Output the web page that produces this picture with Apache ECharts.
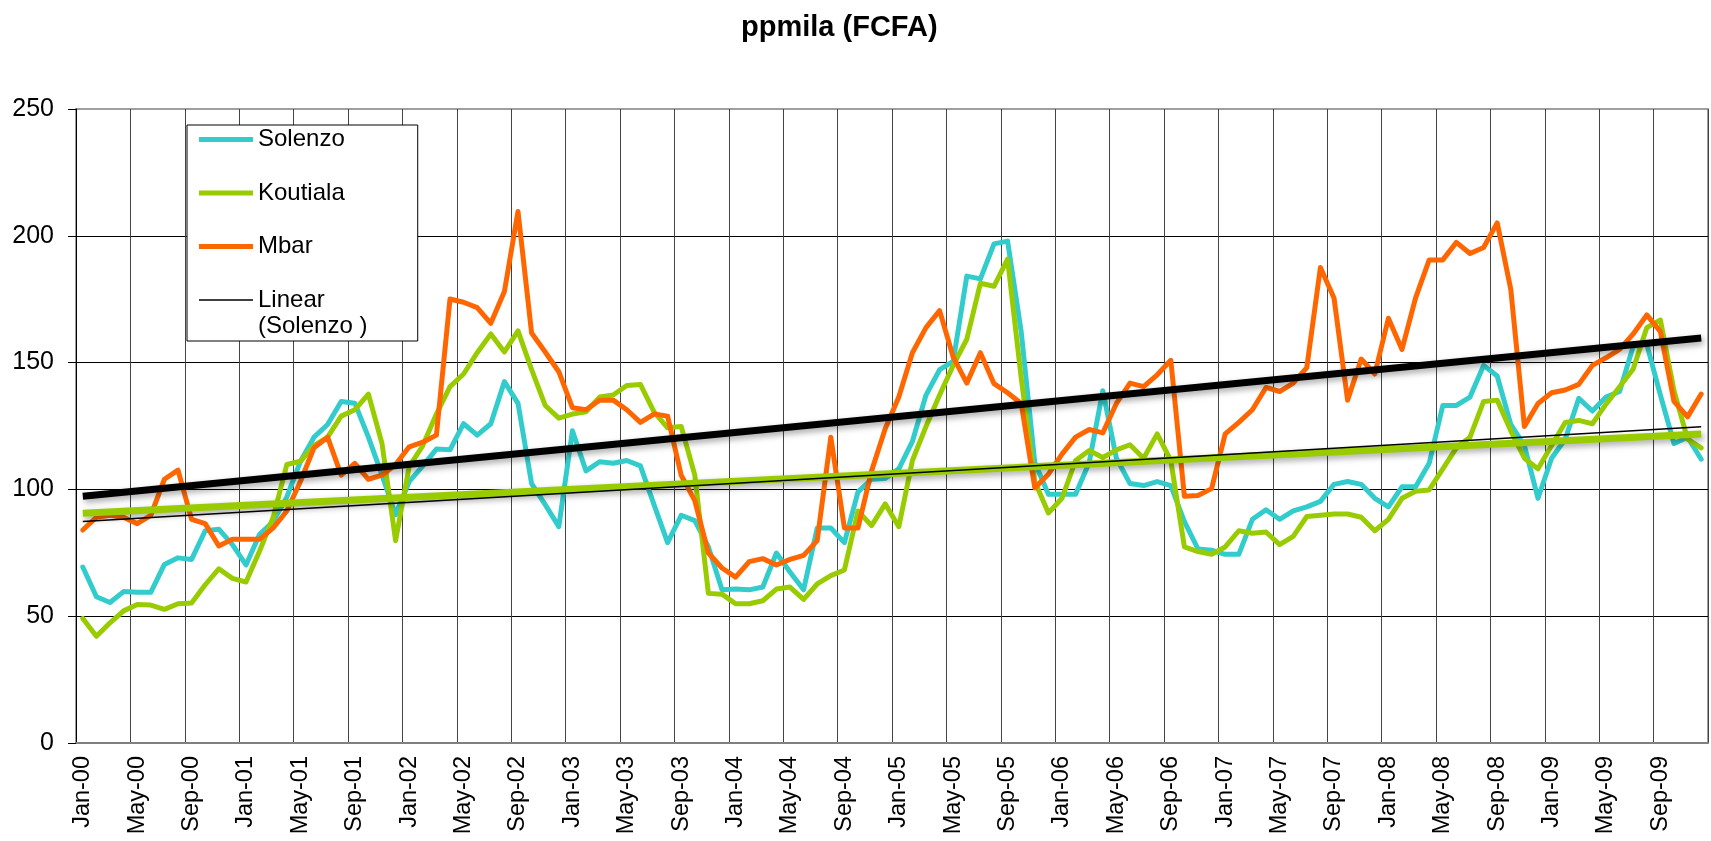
<!DOCTYPE html>
<html>
<head>
<meta charset="utf-8">
<title>ppmila (FCFA)</title>
<script src="https://cdn.jsdelivr.net/npm/echarts@6/dist/echarts.min.js"></script>
<style>
  html, body { margin: 0; padding: 0; background: #fff; }
  #chart { width: 1711px; height: 841px; }
</style>
</head>
<body>
<div id="chart"></div>
<script>
// month labels Jan-00 .. Dec-09
var monthNames = ['Jan', 'Feb', 'Mar', 'Apr', 'May', 'Jun', 'Jul', 'Aug', 'Sep', 'Oct', 'Nov', 'Dec'];
var years = ['00', '01', '02', '03', '04', '05', '06', '07', '08', '09'];
var categories = [];
years.forEach(function (y) {
    monthNames.forEach(function (m) { categories.push(m + '-' + y); });
});

var solenzo = [
    69.4, 57.7, 55.4, 59.7, 59.4, 59.4, 70.4, 73, 72.4, 83.7, 84.3, 78.2,
    70.2, 82.3, 87.3, 97, 111, 120.6, 125.6, 134.7, 134, 120.6, 105.6, 90,
    103.1, 109.3, 115.9, 115.6, 125.9, 121.4, 125.9, 142.5, 133.9, 102.3, 94, 85.3,
    123.1, 107.3, 110.9, 110.3, 111.4, 109.3, 94, 79, 89.8, 87.7, 77.3, 60.4,
    60.7, 60.4, 61.5, 74.9, 67.4, 60.4, 84.8, 84.8, 79, 99, 104, 104.3,
    108.1, 118.9, 137.2, 147.2, 150.5, 184.1, 183, 196.8, 197.9, 162.2, 110.6, 98.1,
    98.1, 98.1, 110.6, 138.9, 112.3, 102.3, 101.5, 103.1, 101.5, 87.3, 76.5, 76,
    74.4, 74.4, 88.2, 92, 88.2, 91.5, 93.1, 95.3, 102, 103.1, 102, 96.5,
    93.1, 101, 101, 110.3, 133.1, 133.1, 136.4, 148.9, 144.7, 125.6, 117.3, 96.5,
    112.3, 119.8, 135.9, 130.9, 136.4, 138.6, 156.4, 157.2, 137.2, 118.1, 120.6, 111.9
];
var koutiala = [
    49.1, 42.1, 47.4, 52.1, 54.6, 54.4, 52.7, 54.9, 55.2, 62.4, 68.7, 64.9,
    63.5, 75.7, 89, 109.8, 111.1, 117.3, 120.6, 128.9, 131.4, 137.6, 118.1, 79.8,
    109, 117.3, 129.7, 140.5, 145.5, 153.9, 161.3, 154.2, 162.5, 147.2, 133.1, 128.1,
    129.7, 130.6, 136.4, 137.2, 141, 141.4, 130.6, 124.3, 124.8, 105.6, 59, 58.7,
    54.9, 54.9, 56.1, 60.7, 61.5, 56.6, 62.7, 66, 68.2, 91.5, 85.7, 94.3,
    85.3, 111.4, 124.8, 137.2, 148.9, 159.2, 181.3, 180.1, 190.8, 143.9, 103.1, 90.7,
    96.5, 111.4, 115.3, 112.6, 115.6, 117.6, 112.3, 121.9, 111.4, 77.3, 75.5, 74.4,
    77.3, 83.7, 82.7, 83.2, 78.2, 81.5, 89.3, 89.8, 90.3, 90.3, 89, 83.7,
    88.2, 96.5, 99.3, 99.8, 108.1, 116.4, 120.6, 134.7, 135.2, 123.1, 112.3, 108.1,
    117.3, 126.4, 127.2, 125.9, 133.6, 140.5, 147.5, 163.8, 166.8, 138.9, 119.8, 116.4
];
var mbar = [
    84, 89, 89.8, 89, 86.5, 89.8, 104, 107.6, 88.2, 86.5, 77.7, 80.3,
    80.3, 80.3, 84.8, 91.5, 103.1, 116.4, 120.6, 105.6, 110.3, 104, 105.6, 109.8,
    116.8, 118.6, 121.4, 175.1, 173.8, 171.7, 165.5, 178, 209.6, 161.7, 154.2, 146.4,
    132.2, 131.4, 135.2, 135.2, 131.4, 126.4, 129.7, 128.9, 105.6, 95.6, 74.9, 69,
    65.4, 71.5, 72.7, 70.2, 72.4, 74, 79.8, 120.6, 84.8, 84.8, 107.3, 123.9,
    136.4, 153.9, 163.8, 170.5, 152.2, 141.9, 153.9, 141.7, 138.1, 133.9, 100.6, 106,
    113.9, 120.6, 123.6, 122.3, 133.9, 141.9, 140.5, 145.2, 150.9, 97.3, 97.6, 100.3,
    121.9, 126.4, 131.4, 140.2, 138.6, 141.9, 148, 187.5, 175.5, 135.2, 151.4, 145.5,
    167.5, 155.2, 175.5, 190.5, 190.5, 197.4, 193, 195.4, 205.1, 178.8, 124.8, 133.9,
    138.1, 139.2, 141.4, 148.9, 151.9, 155.2, 161.3, 168.8, 162.2, 134.7, 128.6, 137.6
];

// trend lines, start (Jan-00) and end (Dec-09) values
var trendSolenzo = [87.3, 124.7];
var trendKoutiala = [90.6, 121.8];
var trendMbar = [97.3, 159.7];

var yTicks = [0, 50, 100, 150, 200, 250];

var font = '"Liberation Sans", Arial, sans-serif';
var last = categories.length - 1;

function trend(ends) {
    return [[0, ends[0]], [last, ends[1]]];
}

// plain bar icons for the legend (no circle marker)
var thickIcon = 'path://M0,0H54V5H0Z';
var thinIcon = 'path://M0,0H54V1.5H0Z';

var chart = echarts.init(document.getElementById('chart'));

var shadow = { shadowColor: 'rgba(0,0,0,0.35)', shadowBlur: 6, shadowOffsetX: 2, shadowOffsetY: 3 };

var option = {
    animation: false,
    backgroundColor: '#fff',
    textStyle: { fontFamily: font },
    title: {
        text: 'ppmila (FCFA)',
        left: 741,
        top: 13,
        padding: 0,
        textStyle: { fontFamily: font, fontSize: 29, fontWeight: 'bold', color: '#000' }
    },
    legend: {
        data: [
            { name: 'Solenzo', icon: thickIcon },
            { name: 'Koutiala', icon: thickIcon },
            { name: 'Mbar', icon: thickIcon },
            { name: 'Linear (Solenzo )', icon: thinIcon }
        ],
        orient: 'vertical',
        left: 187,
        top: 125,
        itemWidth: 54,
        itemHeight: 14,
        itemGap: 24.5,
        padding: [0, 73, 26.5, 12],
        backgroundColor: '#fff',
        borderColor: '#000',
        borderWidth: 1,
        borderRadius: 0,
        selectedMode: false,
        textStyle: { fontFamily: font, fontSize: 24, lineHeight: 29, color: '#000' },
        formatter: function (name) {
            return name.indexOf('Linear') === 0 ? 'Linear' : name;
        }
    },
    graphic: [{
        type: 'text',
        left: 258,
        top: 314,
        z: 100,
        style: { text: '(Solenzo )', font: '24px ' + font, fill: '#000' }
    }],
    grid: {
        left: 76,
        right: 3,
        top: 109,
        bottom: 98,
        show: true,
        borderColor: '#808080',
        borderWidth: 1.5
    },
    xAxis: {
        type: 'category',
        data: categories,
        boundaryGap: true,
        axisLine: { lineStyle: { color: '#808080', width: 2 } },
        axisTick: { interval: 3, length: 7, lineStyle: { color: '#333' } },
        axisLabel: {
            interval: 3,
            rotate: 90,
            margin: 13,
            fontSize: 23.5,
            color: '#000',
            fontFamily: font
        },
        splitLine: { show: true, interval: 3, lineStyle: { color: '#444', width: 1 } }
    },
    yAxis: {
        type: 'value',
        min: yTicks[0],
        max: yTicks[yTicks.length - 1],
        interval: 50,
        axisLine: { show: true, lineStyle: { color: '#000', width: 1 } },
        axisTick: { show: true, length: 8, lineStyle: { color: '#000' } },
        axisLabel: { fontSize: 25, margin: 22, color: '#000', fontFamily: font },
        splitLine: { show: true, showMaxLine: false, lineStyle: { color: '#000', width: 1 } }
    },
    series: [
        {
            name: 'Solenzo', type: 'line', data: solenzo, symbol: 'none',
            lineStyle: { color: '#33CCCC', width: 5, join: 'round', cap: 'round' },
            itemStyle: { color: '#33CCCC' }
        },
        {
            name: 'Koutiala', type: 'line', data: koutiala, symbol: 'none',
            lineStyle: { color: '#99CC00', width: 5, join: 'round', cap: 'round' },
            itemStyle: { color: '#99CC00' }
        },
        {
            name: 'Mbar', type: 'line', data: mbar, symbol: 'none',
            lineStyle: { color: '#FF6600', width: 5, join: 'round', cap: 'round' },
            itemStyle: { color: '#FF6600' }
        },
        {
            name: 'trend Mbar', type: 'line', data: trend(trendMbar), symbol: 'none',
            lineStyle: Object.assign({ color: '#000', width: 7 }, shadow),
            itemStyle: { color: '#000' }
        },
        {
            name: 'trend Koutiala', type: 'line', data: trend(trendKoutiala), symbol: 'none',
            lineStyle: Object.assign({ color: '#99CC00', width: 7 }, shadow),
            itemStyle: { color: '#99CC00' }
        },
        {
            name: 'Linear (Solenzo )', type: 'line', data: trend(trendSolenzo), symbol: 'none',
            lineStyle: { color: '#000', width: 1.5 }, itemStyle: { color: '#000' }
        }
    ]
};

chart.setOption(option);
</script>
</body>
</html>
